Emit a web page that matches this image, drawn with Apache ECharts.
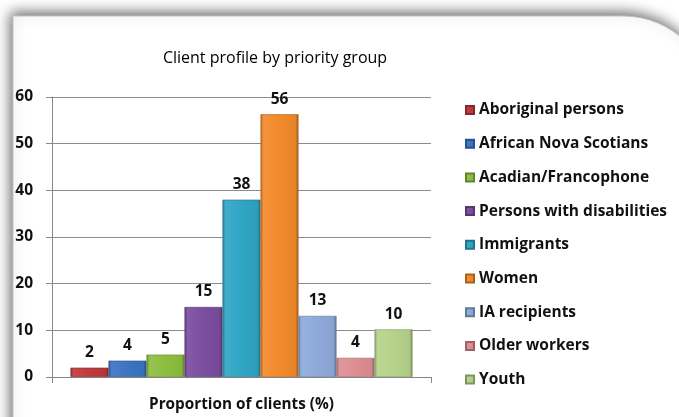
<!DOCTYPE html>
<html>
<head>
<meta charset="utf-8">
<script src="https://cdn.jsdelivr.net/npm/echarts@6/dist/echarts.min.js"></script>
<style>
html,body{margin:0;padding:0;background:#fff;}
#c{width:679px;height:417px;}
</style>
</head>
<body>
<div id="c"></div>
<script>
var title = 'Client profile by priority group';
var categories = ['Proportion of clients (%)'];
var groups = ['Aboriginal persons','African Nova Scotians','Acadian/Francophone','Persons with disabilities','Immigrants','Women','IA recipients','Older workers','Youth'];
var values = [2, 3.5, 4.8, 15, 38, 56.3, 13.1, 4.1, 10.2];
var palette = ['#C0393B','#3B74C4','#8DBE3F','#7B4D9F','#2FA5C4','#F28A2B','#8EAAD9','#DD8E92','#B6D38B'];
var yTicks = [0, 10, 20, 30, 40, 50, 60];

function shade(hex, f) {
  var n = parseInt(hex.slice(1), 16);
  var r = (n >> 16) & 255, g = (n >> 8) & 255, b = n & 255;
  function t(c){ return Math.max(0, Math.min(255, Math.round(f < 0 ? c * (1 + f) : c + (255 - c) * f))); }
  return 'rgb(' + t(r) + ',' + t(g) + ',' + t(b) + ')';
}
function bevel(hex) {
  return new echarts.graphic.LinearGradient(0, 0, 1, 0, [
    {offset: 0, color: shade(hex, -0.25)},
    {offset: 0.08, color: shade(hex, 0.08)},
    {offset: 0.5, color: hex},
    {offset: 0.92, color: shade(hex, -0.05)},
    {offset: 1, color: shade(hex, -0.35)}
  ]);
}

var chart = echarts.init(document.getElementById('c'), null, {renderer: 'canvas'});
var FONT = '"Open Sans"';
var series = groups.map(function (g, i) {
  return {
    name: g,
    type: 'bar',
    data: [values[i]],
    barWidth: 38,
    barGap: '0%',
    itemStyle: {color: bevel(palette[i]), borderColor: shade(palette[i], -0.3), borderWidth: 0.6},
    label: {
      show: true, position: 'top', distance: 7,
      formatter: function (p) { return Math.round(p.value); },
      color: '#111', fontFamily: FONT, fontWeight: 'bold', fontSize: 15.5
    },
    emphasis: {disabled: true}
  };
});

chart.setOption({
  animation: false,
  backgroundColor: '#fff',
  graphic: [{
    type: 'rect', z: -10, silent: true,
    shape: {x: 13, y: 16, width: 700, height: 500, r: [0, 90, 0, 0]},
    style: {fill: '#fff', stroke: '#c4c4c4', lineWidth: 1,
      shadowBlur: 14, shadowOffsetX: -2, shadowOffsetY: -3, shadowColor: 'rgba(0,0,0,0.6)'}
  }],
  title: {
    text: title, left: 270, top: 45, textAlign: 'center',
    textStyle: {fontFamily: FONT, fontWeight: 'normal', fontSize: 16, color: '#000'}
  },
  legend: {
    orient: 'vertical', left: 460, top: 97,
    itemWidth: 8, itemHeight: 8, itemGap: 17.7, icon: 'rect',
    textStyle: {fontFamily: FONT, fontWeight: 'bold', fontSize: 15.5, color: '#111', lineHeight: 16},
    data: groups
  },
  grid: {left: 52, right: 248, top: 97, bottom: 33},
  xAxis: {
    type: 'category', data: categories,
    axisLine: {lineStyle: {color: '#888'}},
    axisTick: {show: true, length: 6, lineStyle: {color: '#888'}},
    axisLabel: {show: false},
    name: categories[0], nameLocation: 'middle', nameGap: 20,
    nameTextStyle: {fontFamily: FONT, fontWeight: 'bold', fontSize: 15.3, color: '#111'}
  },
  yAxis: {
    type: 'value', min: yTicks[0], max: yTicks[yTicks.length - 1], interval: 10,
    axisLine: {show: true, lineStyle: {color: '#888'}},
    axisTick: {show: true, length: 6, lineStyle: {color: '#888'}},
    splitLine: {lineStyle: {color: '#8c8c8c'}},
    axisLabel: {margin: 19, fontFamily: FONT, fontWeight: 'bold', fontSize: 15.5, color: '#111'}
  },
  series: series
});
</script>
</body>
</html>
